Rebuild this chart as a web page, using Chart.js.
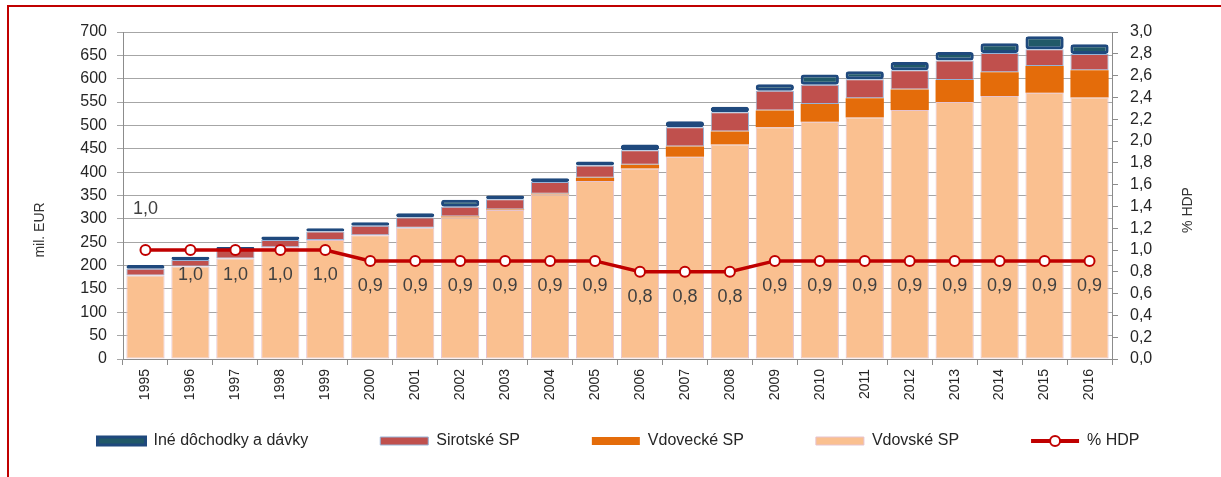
<!DOCTYPE html>
<html>
<head>
<meta charset="utf-8">
<script src="https://cdn.jsdelivr.net/npm/chart.js@4.4.1/dist/chart.umd.min.js"></script>
<style>
  body { margin: 0; background: #fff; }
  #wrap { position: relative; width: 1221px; height: 477px; }
  #frame { position: absolute; left: 7px; top: 5px; right: -10px; bottom: -10px; border-left: 2px solid #c00000; border-top: 2px solid #c00000; }
  canvas { position: absolute; left: 0; top: 0; }
</style>
</head>
<body>
<div id="wrap">
  <div id="frame"></div>
  <canvas id="graf" width="1221" height="477"></canvas>
</div>
<script>
const roky = ["1995", "1996", "1997", "1998", "1999", "2000", "2001", "2002", "2003", "2004", "2005",
  "2006", "2007", "2008", "2009", "2010", "2011", "2012", "2013", "2014", "2015", "2016"];

// mil. EUR
const vdovske = [179, 198, 215, 239, 255, 265, 281, 303, 319, 352, 381, 408, 433, 459, 496, 508, 517, 533, 550, 563, 570, 560];
const vdovecke = [0, 0, 0, 0, 0, 0, 0, 2, 1, 2, 7, 8, 22, 28, 36, 38, 41, 44, 47, 51, 57, 58];
const sirotske = [14, 14, 19, 16, 18, 20, 22, 21, 22, 25, 26, 31, 41, 41, 42, 41, 41, 41, 42, 41, 36, 35];
const ine = [8, 7, 6, 7, 7, 8, 9, 15, 8, 8, 9, 12, 13, 12, 14, 22, 17, 18, 18, 21, 28, 21];

// % HDP
const hdp = [1.0, 1.0, 1.0, 1.0, 1.0, 0.9, 0.9, 0.9, 0.9, 0.9, 0.9, 0.8, 0.8, 0.8, 0.9, 0.9, 0.9, 0.9, 0.9, 0.9, 0.9, 0.9];

const poradieLegendy = ["Iné dôchodky a dávky", "Sirotské SP", "Vdovecké SP", "Vdovské SP", "% HDP"];

const FONT = "'Liberation Sans', Arial, sans-serif";
Chart.defaults.font.family = FONT;
Chart.defaults.color = "#333333";

const ciarka = v => v.toFixed(1).replace(".", ",");

// popisky hodnot % HDP
const popiskyHdp = {
  id: "popiskyHdp",
  afterDatasetsDraw(chart) {
    const meta = chart.getDatasetMeta(0);
    const ctx = chart.ctx;
    ctx.save();
    ctx.font = "18px " + FONT;
    ctx.fillStyle = "#404040";
    ctx.textAlign = "center";
    ctx.textBaseline = "middle";
    meta.data.forEach((bod, i) => {
      const dy = i === 0 ? -41 : 25;
      ctx.fillText(ciarka(hdp[i]), bod.x, bod.y + dy);
    });
    ctx.restore();
  }
};

// nazvy osi + znacka ciary v legende
const doplnky = {
  id: "doplnky",
  afterDraw(chart) {
    const ctx = chart.ctx;
    ctx.save();
    ctx.font = "14px " + FONT;
    ctx.fillStyle = "#333333";
    ctx.textAlign = "center";
    ctx.textBaseline = "middle";
    ctx.translate(40, 230);
    ctx.rotate(-Math.PI / 2);
    ctx.fillText("mil. EUR", 0, 0);
    ctx.restore();

    ctx.save();
    ctx.font = "14px " + FONT;
    ctx.fillStyle = "#333333";
    ctx.textAlign = "center";
    ctx.textBaseline = "middle";
    ctx.translate(1188, 210);
    ctx.rotate(-Math.PI / 2);
    ctx.fillText("% HDP", 0, 0);
    ctx.restore();

    const leg = chart.legend;
    const i = leg.legendItems.findIndex(it => it.text === "% HDP");
    if (i < 0) return;
    const box = leg.legendHitBoxes[i];
    const y = box.top + box.height / 2;
    ctx.save();
    ctx.strokeStyle = "#c00000";
    ctx.lineWidth = 4;
    ctx.beginPath();
    ctx.moveTo(box.left, y);
    ctx.lineTo(box.left + 48, y);
    ctx.stroke();
    ctx.beginPath();
    ctx.arc(box.left + 24, y, 5, 0, Math.PI * 2);
    ctx.fillStyle = "#ffffff";
    ctx.fill();
    ctx.lineWidth = 2;
    ctx.stroke();
    ctx.restore();
  }
};

new Chart(document.getElementById("graf"), {
  type: "bar",
  data: {
    labels: roky,
    datasets: [
      {
        type: "line",
        label: "% HDP",
        data: hdp,
        yAxisID: "y1",
        borderColor: "#c00000",
        borderWidth: 3.5,
        pointRadius: 5,
        pointBorderWidth: 2,
        pointBackgroundColor: "#ffffff",
        pointBorderColor: "#c00000",
        tension: 0
      },
      {
        label: "Vdovské SP",
        data: vdovske,
        backgroundColor: "#fac090",
        borderColor: "#e6c3cf",
        borderWidth: 1,
        borderSkipped: false
      },
      {
        label: "Vdovecké SP",
        data: vdovecke,
        backgroundColor: "#e46c0a",
        borderColor: "#e46c0a",
        borderWidth: 0
      },
      {
        label: "Sirotské SP",
        data: sirotske,
        backgroundColor: "#c0504d",
        borderColor: "#95b3d7",
        borderWidth: 1,
        borderSkipped: false
      },
      {
        label: "Iné dôchodky a dávky",
        data: ine,
        backgroundColor: "#215968",
        borderColor: "#1f497d",
        borderWidth: 3,
        borderRadius: 3,
        borderSkipped: false
      }
    ]
  },
  options: {
    responsive: false,
    animation: false,
    categoryPercentage: 0.85,
    barPercentage: 1,
    layout: { padding: { top: 32, bottom: 18, left: 16, right: 0 } },
    plugins: {
      tooltip: { enabled: false },
      legend: {
        position: "bottom",
        labels: {
          font: { size: 16 },
          color: "#262626",
          boxWidth: 48,
          boxHeight: 8,
          padding: 72,
          generateLabels(chart) {
            const polozky = Chart.defaults.plugins.legend.labels.generateLabels(chart);
            polozky.forEach(it => {
              if (it.text === "% HDP") {
                it.fillStyle = "rgba(0,0,0,0)";
                it.strokeStyle = "rgba(0,0,0,0)";
                it.lineWidth = 0;
              }
            });
            return poradieLegendy.map(t => polozky.find(it => it.text === t));
          }
        }
      }
    },
    scales: {
      x: {
        stacked: true,
        grid: { offset: true, drawOnChartArea: false, tickLength: 6, color: "#8c8c8c" },
        border: { color: "#8c8c8c" },
        ticks: { minRotation: 90, maxRotation: 90, autoSkip: false, padding: 4, font: { size: 14 }, color: "#262626" },
        afterFit(s) {
          s.height = 2;
          // popisky roku pod osou nech sa neorezavaju
          s._computeLabelArea = () => undefined;
        }
      },
      y: {
        stacked: true,
        min: 0,
        max: 700,
        ticks: { stepSize: 50, autoSkip: false, padding: 10, font: { size: 16 }, color: "#262626" },
        grid: { color: "#a6a6a6", tickLength: 6 },
        border: { color: "#8c8c8c" },
        afterFit(s) { s.width = 107; }
      },
      y1: {
        position: "right",
        min: 0,
        max: 3,
        ticks: { stepSize: 0.2, autoSkip: false, padding: 12, font: { size: 16 }, color: "#262626", callback: v => ciarka(v) },
        grid: { drawOnChartArea: false, tickLength: 6, color: "#8c8c8c" },
        border: { color: "#8c8c8c" },
        afterFit(s) { s.width = 109; }
      }
    }
  },
  plugins: [popiskyHdp, doplnky]
});
</script>
</body>
</html>
